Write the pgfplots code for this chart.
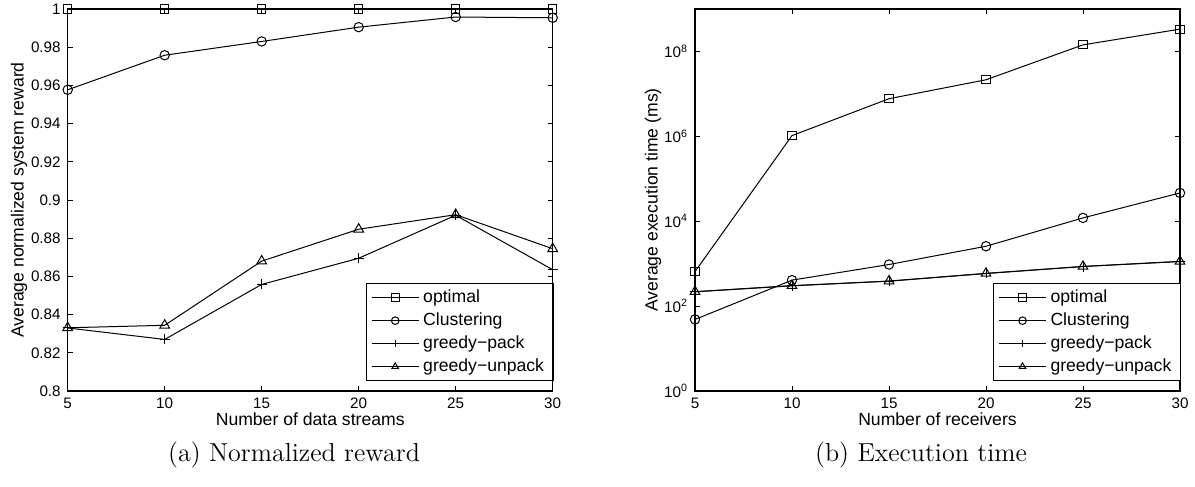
\documentclass[border=0pt]{standalone}
\usepackage{pgfplots}
\pgfplotsset{compat=1.18}
\usepackage{fontspec}
\newfontfamily\arial{Liberation Sans}
\begin{document}
\begin{tikzpicture}
\useasboundingbox (0,0) rectangle (597.5pt,243.5pt);
\pgfplotsset{
 myax/.style={
  scale only axis, width=242.5pt, height=191pt,
  font=\arial\fontsize{8.8}{10}\selectfont,
  tick label style={font=\arial\fontsize{7.6}{8}\selectfont},
  /pgf/number format/assume math mode=true,
  xmin=5, xmax=30, xtick={5,10,15,20,25,30},
  tick align=inside, major tick length=2.5pt,
  axis line style={line width=0.55pt},
  every tick/.style={black, line width=0.4pt},
  xlabel style={at={(axis description cs:0.5,-0.073)}, anchor=center},
  legend style={at={(1.002,0.026)}, anchor=south east, draw=black, line width=0.6pt,
    font=\arial\fontsize{8.8}{10}\selectfont, inner xsep=2.5pt, inner ysep=1pt,
    row sep=-0.4pt, cells={anchor=west}},
  legend image code/.code={\draw[mark repeat=2,mark phase=2,mark size=1.9pt] plot coordinates {(0pt,0pt) (11.75pt,0pt) (23.5pt,0pt)};},
 },
 mkA/.style={black, line width=0.5pt, mark=square, mark size=2.05pt, mark options={solid}},
 mkB/.style={black, line width=0.5pt, mark=o, mark size=2.35pt, mark options={solid}},
 mkC/.style={black, line width=0.5pt, mark=+, mark size=2.5pt, mark options={solid}},
 mkD/.style={black, line width=0.5pt, mark=triangle, mark size=2.8pt, mark options={solid}},
}
\begin{axis}[myax, at={(33.85pt,48pt)}, anchor=south west,
  ymin=0.8, ymax=1,
  ytick={0.8,0.82,0.84,0.86,0.88,0.9,0.92,0.94,0.96,0.98,1},
  yticklabels={0.8,0.82,0.84,0.86,0.88,0.9,0.92,0.94,0.96,0.98,1},
  xlabel={Number of data streams},
  ylabel={Average normalized system reward},
  ylabel style={at={(axis description cs:-0.1,0.5)}, anchor=center},
  clip=false]
\addplot[mkA] coordinates {(5,1) (10,1) (15,1) (20,1) (25,1) (30,1)};
\addplot[mkB] coordinates {(5,0.9577) (10,0.9758) (15,0.9830) (20,0.9905) (25,0.9958) (30,0.9954)};
\addplot[mkC] coordinates {(5,0.8330) (10,0.8270) (15,0.8558) (20,0.8695) (25,0.8920) (30,0.8635)};
\addplot[mkD] coordinates {(5,0.8331) (10,0.8344) (15,0.8680) (20,0.8847) (25,0.8923) (30,0.8745)};
\legend{optimal,Clustering,greedy\textminus pack,greedy\textminus unpack}
\end{axis}
\begin{axis}[myax, at={(347.5pt,48pt)}, anchor=south west,
  ymode=log, ymin=1, ymax=1e9,
  ytick={1,1e2,1e4,1e6,1e8},
  yticklabels={10\textsuperscript{0},10\textsuperscript{2},10\textsuperscript{4},10\textsuperscript{6},10\textsuperscript{8}},
  yminorticks=false,
  xlabel={Number of receivers},
  ylabel={Average execution time (ms)},
  ylabel style={at={(axis description cs:-0.0866,0.5)}, anchor=center},
  clip=false]
\addplot[mkA] coordinates {(5,650) (10,1.04e6) (15,7.7e6) (20,2.15e7) (25,1.43e8) (30,3.35e8)};
\addplot[mkB] coordinates {(5,48.5) (10,409) (15,955) (20,2570) (25,11970) (30,46400)};
\addplot[mkC] coordinates {(5,217) (10,301) (15,387) (20,587) (25,857) (30,1125)};
\addplot[mkD] coordinates {(5,219) (10,303) (15,389) (20,590) (25,860) (30,1130)};
\legend{optimal,Clustering,greedy\textminus pack,greedy\textminus unpack}
\end{axis}
\node at (147pt,16pt) {\fontsize{13}{15}\selectfont (a)\ Normalized reward};
\node at (460.5pt,16pt) {\fontsize{13}{15}\selectfont (b)\ Execution time};
\end{tikzpicture}
\end{document}
